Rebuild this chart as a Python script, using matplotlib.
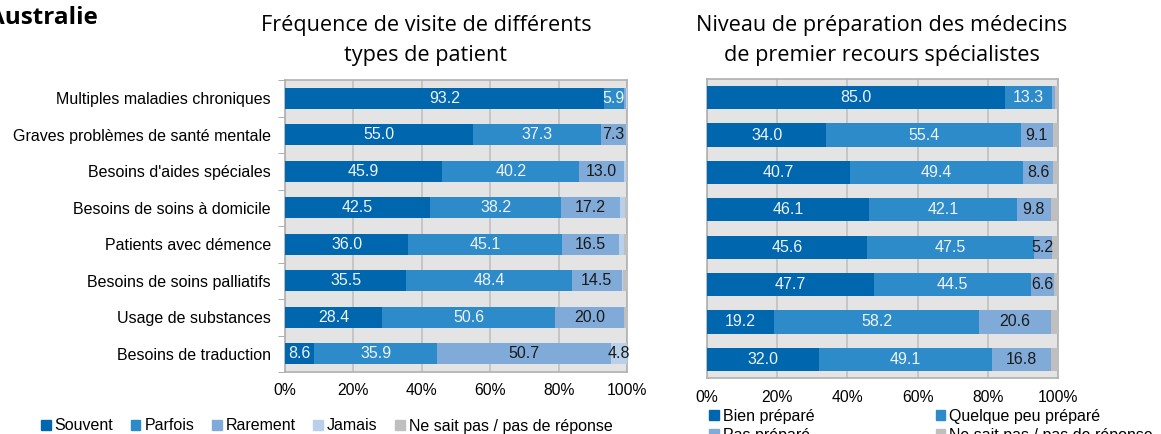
import matplotlib.pyplot as plt
from matplotlib.patches import Patch
import numpy as np

plt.rcParams['font.family'] = ['Liberation Sans', 'DejaVu Sans']

# catégories (de haut en bas)
categories = ["Multiples maladies chroniques", "Graves problèmes de santé mentale",
              "Besoins d'aides spéciales", "Besoins de soins à domicile",
              "Patients avec démence", "Besoins de soins palliatifs",
              "Usage de substances", "Besoins de traduction"]

# graphique gauche : fréquence de visite
souvent = [93.2, 55.0, 45.9, 42.5, 36.0, 35.5, 28.4, 8.6]
parfois = [5.9, 37.3, 40.2, 38.2, 45.1, 48.4, 50.6, 35.9]
rarement = [0.6, 7.3, 13.0, 17.2, 16.5, 14.5, 20.0, 50.7]
jamais = [0.2, 0.2, 0.6, 1.5, 1.5, 0.4, 0.0, 4.8]
nsp_freq = [0.1, 0.2, 0.3, 0.6, 0.9, 1.2, 1.0, 0.0]

# graphique droit : niveau de préparation
bien = [85.0, 34.0, 40.7, 46.1, 45.6, 47.7, 19.2, 32.0]
quelque = [13.3, 55.4, 49.4, 42.1, 47.5, 44.5, 58.2, 49.1]
pas_prep = [0.8, 9.1, 8.6, 9.8, 5.2, 6.6, 20.6, 16.8]
nsp_prep = [0.9, 1.5, 1.3, 2.0, 1.7, 1.2, 2.0, 2.1]

freq_labels = ["Souvent", "Parfois", "Rarement", "Jamais", "Ne sait pas / pas de réponse"]
prep_labels = ["Bien préparé", "Quelque peu préparé", "Pas préparé", "Ne sait pas / pas de réponse"]

c_dark = '#0066ad'
c_mid = '#2e8bc9'
c_light = '#80aad8'
c_pale = '#b9d0ea'
c_gray = '#bfbfbf'
bg = '#e4e4e4'
grid_c = '#c0c0c0'
title_font = ['Open Sans', 'DejaVu Sans']
W, H = 1161, 434


def stacked(ax, series, colors, txtcolors, height, minlab, pad):
    y = np.arange(len(categories))
    left = np.zeros(len(categories))
    for vals, col, tc in zip(series, colors, txtcolors):
        vals = np.array(vals)
        ax.barh(y, vals, left=left, height=height, color=col, zorder=3)
        for yi, (l, v) in enumerate(zip(left, vals)):
            if v >= minlab:
                ax.text(l + v / 2, yi, '%.1f' % v, ha='center', va='center',
                        color=tc, fontsize=11.5, zorder=4)
        left += vals
    ax.set_xlim(0, 100)
    ax.set_ylim(len(categories) - 0.5, -0.5)
    ax.set_facecolor(bg)
    ax.set_xticks(np.arange(0, 101, 20))
    ax.set_xticklabels(['%d%%' % v for v in range(0, 101, 20)], fontsize=11.3)
    ax.xaxis.grid(True, color=grid_c, lw=1.2, zorder=1)
    ax.tick_params(axis='x', length=0, pad=pad)
    for s in ax.spines.values():
        s.set_color('#b0b0b0')
        s.set_linewidth(1.2)


fig = plt.figure(figsize=(W / 100, H / 100), dpi=100)

ax1 = fig.add_axes([285 / W, 62 / H, 342 / W, 292 / H])
stacked(ax1, [souvent, parfois, rarement, jamais, nsp_freq],
        [c_dark, c_mid, c_light, c_pale, c_gray],
        ['#eef4fa', '#eef4fa', '#1a1a1a', '#1a1a1a', '#1a1a1a'], 0.58, 4.0, 8)
ax1.set_yticks(np.arange(len(categories)))
ax1.set_yticklabels(categories, fontsize=11.5)
ax1.tick_params(axis='y', length=0, pad=10)
ax1.set_yticks(np.arange(len(categories) + 1) - 0.5, minor=True)
ax1.tick_params(axis='y', which='minor', length=5, color='#a0a0a0', direction='out')

ax2 = fig.add_axes([707 / W, 56 / H, 351 / W, 299 / H])
stacked(ax2, [bien, quelque, pas_prep, nsp_prep],
        [c_dark, c_mid, c_light, c_gray],
        ['#eef4fa', '#eef4fa', '#1a1a1a', '#1a1a1a'], 0.62, 4.0, 9)
ax2.set_yticks([])

# titres
fig.text(426 / W, 1 - 26 / H, "Fréquence de visite de différents", family=title_font,
         fontsize=15.6, ha='center', va='center')
fig.text(426 / W, 1 - 55 / H, "types de patient", family=title_font,
         fontsize=15.6, ha='center', va='center')
fig.text(882 / W, 1 - 26 / H, "Niveau de préparation des médecins", family=title_font,
         fontsize=15.6, ha='center', va='center')
fig.text(882 / W, 1 - 55 / H, "de premier recours spécialistes", family=title_font,
         fontsize=15.6, ha='center', va='center')
fig.text(-12 / W, 1 - 18 / H, "Australie", family=title_font, fontsize=17.5,
         fontweight='bold', ha='left', va='center')

h1 = [Patch(color=c) for c in [c_dark, c_mid, c_light, c_pale, c_gray]]
fig.legend(h1, freq_labels, loc='center left', bbox_to_anchor=(41 / W, 1 - 426 / H),
           ncol=5, frameon=False, fontsize=11.5, handlelength=0.6, handleheight=0.6,
           handletextpad=0.25, columnspacing=1.1, borderaxespad=0, borderpad=0)

# ordre colonne par colonne pour obtenir les lignes de la référence
h2 = [Patch(color=c) for c in [c_dark, c_light, c_mid, c_gray]]
l2 = [prep_labels[0], prep_labels[2], prep_labels[1], prep_labels[3]]
fig.legend(h2, l2, loc='center left', bbox_to_anchor=(709 / W, 1 - 426 / H),
           ncol=2, frameon=False, fontsize=11.5, handlelength=0.6, handleheight=0.6,
           handletextpad=0.25, columnspacing=7.6, labelspacing=0.25, borderaxespad=0, borderpad=0)

fig.savefig('out.png', dpi=100)
